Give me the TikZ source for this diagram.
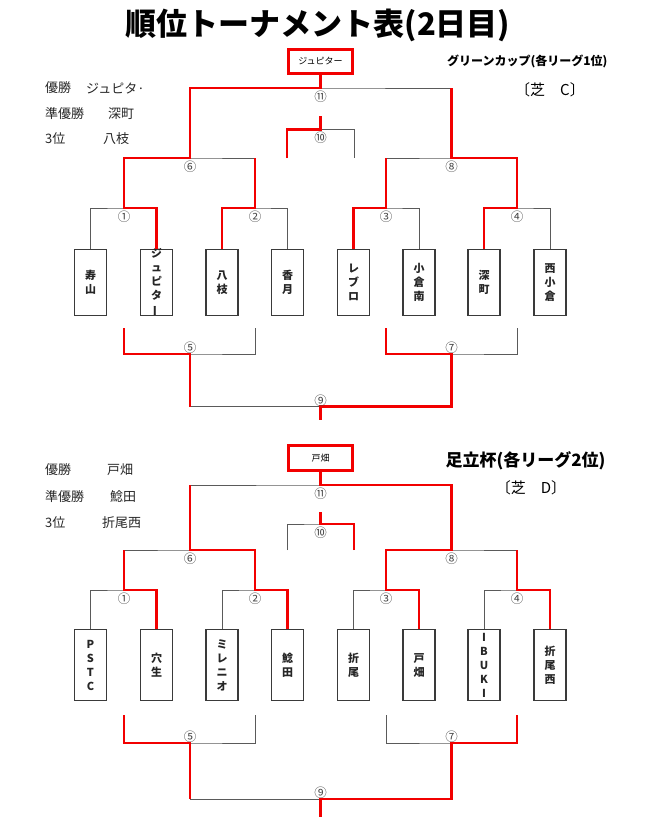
\documentclass[tikz,border=0pt]{standalone}
\usepackage{fontspec}
\setmainfont{Noto Sans CJK JP}
\usetikzlibrary{positioning}
\definecolor{linegray}{HTML}{5A5A5A}
\definecolor{boxgray}{HTML}{3A3A3A}
\definecolor{numgray}{HTML}{444444}
\definecolor{winred}{HTML}{F20000}
\newcommand{\tatebar}{\rotatebox[origin=c]{90}{ー}}
\tikzset{
  team/.style={draw=boxgray, line width=1.1pt, minimum width=32pt, inner sep=0pt},
  tate/.style={font=\fontsize{11}{14}\selectfont\bfseries, text=black!85, align=center, inner sep=0pt},
  champ/.style={draw=winred, line width=2.6pt, minimum width=63.5pt, minimum height=24.5pt, inner sep=0pt, font=\fontsize{9}{9}\selectfont},
  gl/.style={draw=linegray, line width=1pt},
  rl/.style={draw=winred, line width=2.6pt},
  num/.style={font=\fontsize{12.5}{12.5}\selectfont, text=numgray, inner sep=0pt},
  res/.style={font=\fontsize{13}{13}\selectfont, text=black!85, inner sep=0pt, anchor=west},
}

\begin{document}
\begin{tikzpicture}[x=1pt, y=-1pt]
\useasboundingbox (0,0) rectangle (650,827);

\node[font=\fontsize{31}{31}\selectfont\bfseries] (title) at (318,25) {順位トーナメント表(2日目)};

% upper bracket
\node[champ] (champA) at (320.5,61.5) {ジュピター};
\node[font=\fontsize{12}{12}\selectfont\bfseries, anchor=east] (cupA) at (611,61) {グリーンカップ(各リーグ1位)};
\node[font=\fontsize{15}{15}\selectfont] (turfA) at (550,90) {〔芝　C〕};
\node[res] (ra1) at (45,88) {優勝};
\node[res] (ra1n) at (86,88) {ジュピタ·};
\node[res] (ra2) at (45,114) {準優勝};
\node[res] (ra2n) at (108,114) {深町};
\node[res] (ra3) at (45,139) {3位};
\node[res] (ra3n) at (103,139) {八枝};

\foreach \n/\x/\t in {1/90.5/{寿\\山}, 2/156.5/{ジ\\ュ\\ピ\\タ\\\tatebar}, 3/222/{八\\枝},
    4/287.5/{香\\月}, 5/353.5/{レ\\ブ\\ロ}, 6/419/{小\\倉\\南}, 7/484/{深\\町}, 8/550/{西\\小\\倉}}{
  \node[team, minimum height=66pt] (a\n) at (\x,282.5) {};
  \node[tate] (ta\n) at (a\n) {\t};
}

\coordinate (am1) at (124,208);
\coordinate (am2) at (255,208);
\coordinate (am3) at (386,208);
\coordinate (am4) at (517,208);
\coordinate (am6) at (190,158);
\coordinate (am8) at (451.5,158);
\coordinate (am11) at (320.5,88);
\coordinate (am10) at (320.5,129.5);
\coordinate (am10t) at (320.5,116);
\coordinate (am10l) at (287,158);
\coordinate (am10r) at (354,158);
\coordinate (ac1) at (124,328);
\coordinate (ac2) at (255,328);
\coordinate (ac3) at (386,328);
\coordinate (ac4) at (517,328);
\coordinate (am5) at (190,354);
\coordinate (am7) at (451.5,354);
\coordinate (am9) at (320.5,406.5);
\coordinate (am9e) at (320.5,420);

\draw[gl] (a1.north) |- (am1) -| (a2.north);
\draw[gl] (a3.north) |- (am2) -| (a4.north);
\draw[gl] (a5.north) |- (am3) -| (a6.north);
\draw[gl] (a7.north) |- (am4) -| (a8.north);
\draw[gl] (am1) |- (am6) -| (am2);
\draw[gl] (am3) |- (am8) -| (am4);
\draw[gl] (am6) |- (am11) -| (am8);
\draw[gl] (am11) -- (champA.south);
\draw[gl] (am10l) |- (am10) -| (am10r);
\draw[gl] (am10) -- (am10t);
\draw[gl] (ac1) |- (am5) -| (ac2);
\draw[gl] (ac3) |- (am7) -| (ac4);
\draw[gl] (am5) |- (am9) -| (am7);
\draw[gl] (am9) -- (am9e);

% winners
\draw[rl] (a2.north) |- (am1) |- (am6) |- (am11) -- (champA.south);
\draw[rl] (a3.north) |- (am2) -- (am2 |- am6);
\draw[rl] (am10l) |- (am10) -- (am10t);
\draw[rl] (a5.north) |- (am3) -- (am3 |- am8);
\draw[rl] (a7.north) |- (am4) |- (am8) -- (am8 |- am11);
\draw[rl] (ac1) |- (am5) -- (am5 |- am9);
\draw[rl] (ac3) |- (am7) |- (am9) -- (am9e);

\node[num, below=2.5pt of am1] (na1) {①};
\node[num, below=2.5pt of am2] (na2) {②};
\node[num, below=2.5pt of am3] (na3) {③};
\node[num, below=2.5pt of am4] (na4) {④};
\node[num, below=3pt of am6] (na6) {⑥};
\node[num, below=3pt of am8] (na8) {⑧};
\node[num, below=2.5pt of am11] (na11) {⑪};
\node[num, below=2.5pt of am10] (na10) {⑩};
\node[num, above=0pt of am5] (na5) {⑤};
\node[num, above=0pt of am7] (na7) {⑦};
\node[num, above=0pt of am9] (na9) {⑨};

% lower bracket
\node[champ] (champB) at (320.5,458) {戸畑};
\node[font=\fontsize{17}{17}\selectfont\bfseries, anchor=east] (cupB) at (609,461) {足立杯(各リーグ2位)};
\node[font=\fontsize{15}{15}\selectfont] (turfB) at (531,488) {〔芝　D〕};
\node[res] (rb1) at (45,470) {優勝};
\node[res] (rb1n) at (107,470) {戸畑};
\node[res] (rb2) at (45,497) {準優勝};
\node[res] (rb2n) at (110,497) {鯰田};
\node[res] (rb3) at (45,523) {3位};
\node[res] (rb3n) at (102,523) {折尾西};

\foreach \n/\x/\t in {1/90.5/{P\\S\\T\\C}, 2/156.5/{穴\\生}, 3/222/{ミ\\レ\\ニ\\オ},
    4/287.5/{鯰\\田}, 5/353.5/{折\\尾}, 6/419/{戸\\畑}, 7/484/{I\\B\\U\\K\\I}, 8/550/{折\\尾\\西}}{
  \node[team, minimum height=71pt] (b\n) at (\x,665) {};
  \node[tate] (tb\n) at (b\n) {\t};
}

\coordinate (bm1) at (124,590);
\coordinate (bm2) at (255,590);
\coordinate (bm3) at (386,590);
\coordinate (bm4) at (517,590);
\coordinate (bm6) at (190,550);
\coordinate (bm8) at (451.5,550);
\coordinate (bm11) at (320.5,485);
\coordinate (bm10) at (320.5,524);
\coordinate (bm10t) at (320.5,512);
\coordinate (bm10l) at (287,550);
\coordinate (bm10r) at (354,550);
\coordinate (bc1) at (124,715);
\coordinate (bc2) at (255,715);
\coordinate (bc3) at (386,715);
\coordinate (bc4) at (517,715);
\coordinate (bm5) at (190,743);
\coordinate (bm7) at (451.5,743);
\coordinate (bm9) at (320.5,799);
\coordinate (bm9e) at (320.5,817);

\draw[gl] (b1.north) |- (bm1) -| (b2.north);
\draw[gl] (b3.north) |- (bm2) -| (b4.north);
\draw[gl] (b5.north) |- (bm3) -| (b6.north);
\draw[gl] (b7.north) |- (bm4) -| (b8.north);
\draw[gl] (bm1) |- (bm6) -| (bm2);
\draw[gl] (bm3) |- (bm8) -| (bm4);
\draw[gl] (bm6) |- (bm11) -| (bm8);
\draw[gl] (bm11) -- (champB.south);
\draw[gl] (bm10l) |- (bm10) -| (bm10r);
\draw[gl] (bm10) -- (bm10t);
\draw[gl] (bc1) |- (bm5) -| (bc2);
\draw[gl] (bc3) |- (bm7) -| (bc4);
\draw[gl] (bm5) |- (bm9) -| (bm7);
\draw[gl] (bm9) -- (bm9e);

% winners
\draw[rl] (b2.north) |- (bm1) -- (bm1 |- bm6);
\draw[rl] (b4.north) |- (bm2) |- (bm6) -- (bm6 |- bm11);
\draw[rl] (b6.north) |- (bm3) |- (bm8) |- (bm11) -- (champB.south);
\draw[rl] (b8.north) |- (bm4) -- (bm4 |- bm8);
\draw[rl] (bm10r) |- (bm10) -- (bm10t);
\draw[rl] (bc1) |- (bm5) -- (bm5 |- bm9);
\draw[rl] (bc4) |- (bm7) |- (bm9) -- (bm9e);

\node[num, below=2.5pt of bm1] (nb1) {①};
\node[num, below=2.5pt of bm2] (nb2) {②};
\node[num, below=2.5pt of bm3] (nb3) {③};
\node[num, below=2.5pt of bm4] (nb4) {④};
\node[num, below=3pt of bm6] (nb6) {⑥};
\node[num, below=3pt of bm8] (nb8) {⑧};
\node[num, below=2.5pt of bm11] (nb11) {⑪};
\node[num, below=2.5pt of bm10] (nb10) {⑩};
\node[num, above=0pt of bm5] (nb5) {⑤};
\node[num, above=0pt of bm7] (nb7) {⑦};
\node[num, above=0pt of bm9] (nb9) {⑨};
\end{tikzpicture}
\end{document}
